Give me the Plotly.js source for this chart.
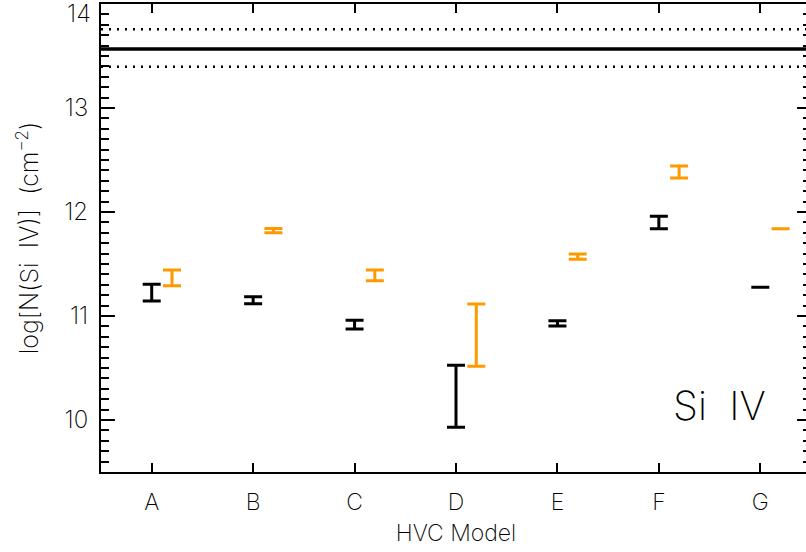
<!DOCTYPE html>
<html><head><meta charset="utf-8">
<script src="https://cdn.plot.ly/plotly-3.0.1.min.js"></script>
<style>html,body{margin:0;padding:0;overflow:hidden;background:#fff}#chart{width:812px;height:552px}</style>
</head><body><div id="chart"></div>
<script>
const categories = ['A','B','C','D','E','F','G'];
// black series (model 1)
const blackVal   = [11.224, 11.152, 10.918, 10.32, 10.930, 11.905, 11.276];
const blackPlus  = [0.081, 0.034, 0.042, 0.206, 0.025, 0.054, 0.0];
const blackMinus = [0.080, 0.034, 0.043, 0.390, 0.026, 0.065, 0.0];
// orange series (model 2)
const orangeVal   = [11.372, 11.820, 11.391, 10.916, 11.570, 12.390, 11.840];
const orangePlus  = [0.070, 0.022, 0.051, 0.199, 0.026, 0.052, 0.0];
const orangeMinus = [0.081, 0.020, 0.051, 0.400, 0.025, 0.063, 0.0];
// observed column density and its range
const observed = [13.567];
const observedRange = [13.397, 13.757];

const idx = categories.map((c,i)=>i);
const off = 0.2;

const traces = [
  {x: idx, y: blackVal, type:'scatter', mode:'markers',
   marker:{size:2, color:'#000'},
   error_y:{type:'data', symmetric:false, array:blackPlus, arrayminus:blackMinus, color:'#000', thickness:3, width:9},
   hoverinfo:'y', showlegend:false},
  {x: idx.map(i=>i+off), y: orangeVal, type:'scatter', mode:'markers',
   marker:{size:2, color:'#ff9900'},
   error_y:{type:'data', symmetric:false, array:orangePlus, arrayminus:orangeMinus, color:'#ff9900', thickness:3, width:9},
   hoverinfo:'y', showlegend:false}
];

const shapes = [
  {type:'line', xref:'paper', x0:0, x1:1, yref:'y', y0:observed[0], y1:observed[0], line:{color:'#000', width:3.5}},
  ...observedRange.map(v=>({type:'line', xref:'paper', x0:0, x1:1, yref:'y', y0:v, y1:v, line:{color:'#000', width:2.5, dash:'2px,6px'}}))
];

const font = 'Inter, DejaVu Sans, sans-serif';
const fw = 200;

const layout = {
  width:812, height:552,
  margin:{l:101, r:1, t:4, b:80},
  paper_bgcolor:'#fff', plot_bgcolor:'#fff',
  font:{family:font, color:'#000', size:22, weight:fw},
  showlegend:false,
  xaxis:{
    range:[-0.5, 6.5], tickvals:idx, ticktext:categories,
    ticks:'inside', ticklen:9, tickwidth:2, tickcolor:'#000',
    showline:true, linewidth:2, linecolor:'#000', mirror:'ticks',
    showgrid:false, zeroline:false,
    tickfont:{family:font, size:23, weight:fw}, ticklabelstandoff:8,
    title:{text:'HVC Model', font:{family:font, size:23, weight:fw}, standoff:10}
  },
  yaxis:{
    range:[9.5, 14], tickvals:[10,11,12,13,14], ticktext:['10','11','12','13',''],
    ticks:'inside', ticklen:14, tickwidth:2, tickcolor:'#000',
    minor:{dtick:0.1, ticks:'inside', ticklen:8, tickwidth:2, tickcolor:'#000', showgrid:false},
    showline:true, linewidth:2, linecolor:'#000', mirror:'allticks',
    showgrid:false, zeroline:false,
    tickfont:{family:font, size:24, weight:fw}, ticklabelstandoff:6,
    title:{text:'log[N(Si\u00a0\u00a0IV)]\u00a0\u00a0(cm<sup>\u22122</sup>)', font:{family:font, size:25, weight:fw}, standoff:18}
  },
  shapes: shapes,
  annotations:[
    {x:-0.5, y:14, xref:'x', yref:'y', text:'14', showarrow:false, xanchor:'right', yanchor:'middle', xshift:-8, yshift:-9, font:{family:font, size:24, weight:fw}},
    {x:6.08, y:10.14, xref:'x', yref:'y', text:'Si\u00a0\u00a0IV', showarrow:false, xanchor:'right', yanchor:'middle', font:{family:font, size:40, weight:fw}}
  ]
};

Plotly.newPlot('chart', traces, layout, {displayModeBar:false, staticPlot:true});
</script>
</body></html>
